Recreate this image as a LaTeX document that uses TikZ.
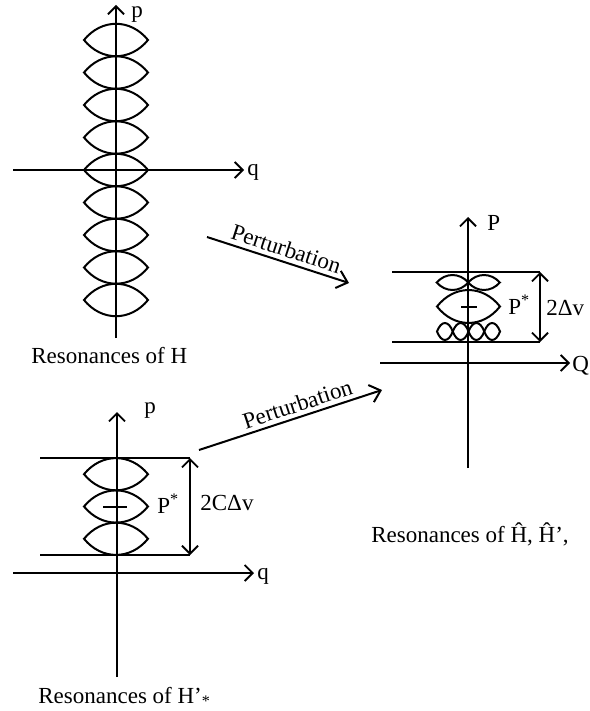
\documentclass[tikz,border=0pt]{standalone}
\usepackage{fontspec}
\setmainfont{Liberation Serif}
\usetikzlibrary{arrows.meta}

\begin{document}
\begin{tikzpicture}[
    x=0.5pt, y=-0.5pt,
    font=\fontsize{11.5}{13}\selectfont,
    axis/.style={line width=0.9pt, -{Straight Barb[length=4pt,width=8pt]}},
    level/.style={line width=0.9pt},
    span/.style={line width=0.9pt, {Straight Barb[length=4pt,width=8pt]}-{Straight Barb[length=4pt,width=8pt]}},
    flow/.style={line width=1pt, -{Straight Barb[length=5pt,width=9pt]}},
    lbl/.style={inner sep=0pt},
    pics/lens/.style n args={2}{code={
        \draw[line width=1pt] (-#1,0) .. controls (-0.45*#1,1.33*#2) and (0.45*#1,1.33*#2) .. (#1,0)
            .. controls (0.45*#1,-1.33*#2) and (-0.45*#1,-1.33*#2) .. cycle;}}
]
\useasboundingbox (0,0) rectangle (589,711);

% Resonances of H
\coordinate (pbot) at (116,338);
\coordinate (ptop) at (116,5);
\coordinate (qleft) at (13,170);
\coordinate (qright) at (244,170);
\foreach \k in {0,...,8}
    \pic at (116,{40+32.5*\k}) {lens={32}{16.25}};
\draw[axis] (pbot) -- (ptop);
\draw[axis] (qleft) -- (qright);
\node[lbl, anchor=base west] (plabel) at (131,18) {p};
\node[lbl, anchor=base west] (qlabel) at (247,176) {q};
\node[lbl, anchor=base west] (capH) at (31,363) {Resonances of H};

% Resonances of H-hat
\coordinate (Pbot) at (468,468);
\coordinate (Ptop) at (468,217);
\coordinate (Qleft) at (380,363);
\coordinate (Qright) at (570,363);
\coordinate (hiL) at (392,272);
\coordinate (hiR) at (540,272);
\coordinate (loL) at (392,342);
\coordinate (loR) at (540,342);
\pic at (452.5,282.5) {lens={15.8}{7.5}};
\pic at (484,282.5) {lens={15.8}{7.5}};
\pic at (468.5,306.5) {lens={31.5}{16.5}};
\foreach \k in {0,...,3}
    \pic at ({444.9+15.75*\k},331.5) {lens={7.9}{8.5}};
\draw[line width=1pt] (461,307) -- (477,307);
\draw[axis] (Pbot) -- (Ptop);
\draw[axis] (Qleft) -- (Qright);
\draw[level] (hiL) -- (hiR);
\draw[level] (loL) -- (loR);
\draw[span] (hiR) -- (loR);
\node[lbl, anchor=base west] (Plabel) at (487,230) {P};
\node[lbl, anchor=base west] (Qlabel) at (572,371) {Q};
\node[lbl, anchor=base west] (Pstar) at (508,314) {P\textsuperscript{*}};
\node[lbl, anchor=base west] (width) at (546,315) {2Δv};
\node[lbl, anchor=base] (capHhat) at (470,542) {Resonances of Ĥ, Ĥ’,};

% Resonances of H'*
\coordinate (pbot2) at (117,677);
\coordinate (ptop2) at (117,412);
\coordinate (qleft2) at (13,573);
\coordinate (qright2) at (254,573);
\coordinate (upL) at (40,458);
\coordinate (upR) at (190,458);
\coordinate (dnL) at (40,555);
\coordinate (dnR) at (190,555);
\foreach \k in {0,...,2}
    \pic at (116,{474.2+32.3*\k}) {lens={32}{16.15}};
\draw[line width=1pt] (103,507) -- (127,507);
\draw[axis] (pbot2) -- (ptop2);
\draw[axis] (qleft2) -- (qright2);
\draw[level] (upL) -- (upR);
\draw[level] (dnL) -- (dnR);
\draw[span] (upR) -- (dnR);
\node[lbl, anchor=base west] (plabel2) at (144,413) {p};
\node[lbl, anchor=base west] (qlabel2) at (257,579) {q};
\node[lbl, anchor=base west] (Pstar2) at (157,513) {P\textsuperscript{*}};
\node[lbl, anchor=base west] (width2) at (200,510) {2CΔv};
\node[lbl, anchor=base west] (capHprime) at (38,703) {Resonances of H’\textsubscript{*}};

% Perturbation arrows
\coordinate (pert1a) at (207,237);
\coordinate (pert1b) at (349,283);
\coordinate (pert2a) at (199,450);
\coordinate (pert2b) at (382,390);
\draw[flow] (pert1a) -- node[pos=0.53, above, sloped, inner sep=2pt] {Perturbation} (pert1b);
\draw[flow] (pert2a) -- node[pos=0.56, above, sloped, inner sep=2pt] {Perturbation} (pert2b);

\end{tikzpicture}
\end{document}
